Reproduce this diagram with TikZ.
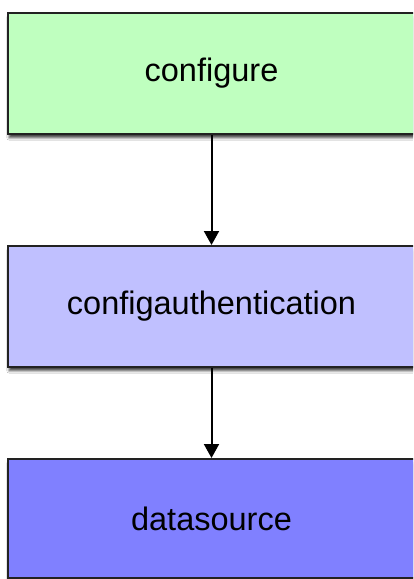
\documentclass[tikz,border=0pt]{standalone}
\usepackage{fontspec}
\setmainfont{Liberation Sans}
\usetikzlibrary{arrows.meta,shadows.blur}
\definecolor{boxgreen}{HTML}{BFFFBF}
\definecolor{boxlavender}{HTML}{C0C0FF}
\definecolor{boxblue}{HTML}{8080FF}
\definecolor{rim}{HTML}{222222}
\tikzset{
  stage/.style={rectangle, draw=rim, line width=1.8pt, minimum width=407pt,
    minimum height=#1, inner sep=0pt, anchor=north,
    font=\fontsize{32.5}{38}\selectfont,
    blur shadow={shadow xshift=1pt, shadow yshift=-4pt, shadow blur steps=6, shadow opacity=70}},
  flow/.style={line width=2pt, -{Triangle[width=15pt,length=14pt]}}
}
\begin{document}
\begin{tikzpicture}[x=1pt,y=-1pt]
  \useasboundingbox[fill=white] (0,0) rectangle (413,579);
  \begin{scope}
    \clip (0,0) rectangle (413,579);
    \node[stage=121pt, fill=boxgreen] (cfg) at (211.5,12) {configure};
    \node[stage=121pt, fill=boxlavender] (auth) at (211.5,245) {configauthentication};
    \node[stage=119pt, fill=boxblue] (ds) at (211.5,458) {datasource};
    \draw[flow] (cfg.south) -- (auth.north);
    \draw[flow] (auth.south) -- (ds.north);
  \end{scope}
\end{tikzpicture}
\end{document}
